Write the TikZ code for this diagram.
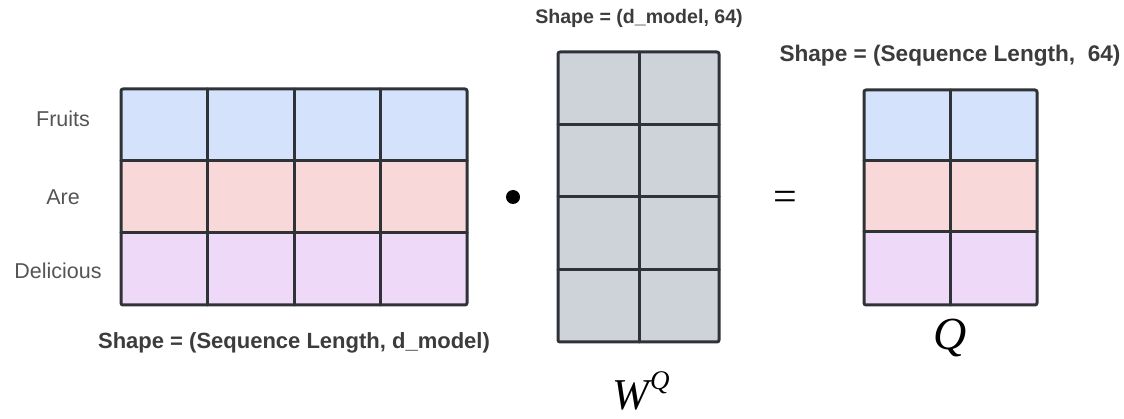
\documentclass[tikz,border=0pt]{standalone}
\usepackage{fontspec}
\setmainfont{Liberation Serif}
\setsansfont{Liberation Sans}

\definecolor{rowblue}{HTML}{D4E3FB}
\definecolor{rowpink}{HTML}{F8D8D8}
\definecolor{rowlilac}{HTML}{EFD9F8}
\definecolor{wgray}{HTML}{CED3DA}
\definecolor{gridline}{HTML}{2F3338}
\definecolor{labelgray}{HTML}{555555}
\definecolor{shapegray}{HTML}{3C3C3C}

\tikzset{
  cell/.style={line width=3pt, draw=gridline, line cap=round, line join=round},
  rowlabel/.style={font=\sffamily\fontsize{21.5}{24}\selectfont, text=labelgray},
  shapelabel/.style={font=\sffamily\bfseries\fontsize{22}{26}\selectfont, text=shapegray},
}

\begin{document}
\begin{tikzpicture}[x=1pt,y=-1pt]
\useasboundingbox (0,0) rectangle (1124,419);

% embeddings: 3 x 4
\fill[rowblue]  (121,89)  rectangle (467,161);
\fill[rowpink]  (121,161) rectangle (467,233);
\fill[rowlilac] (121,233) rectangle (467,305);
\foreach \k in {1,2,3}
  \draw[cell] (121+86.5*\k,89) -- (121+86.5*\k,305);
\foreach \k in {161,233}
  \draw[cell] (121,\k) -- (467,\k);
\draw[cell,rounded corners=2pt] (121,89) rectangle (467,305);

\node[rowlabel] (fruits) at (63,119) {Fruits};
\node[rowlabel] (are) at (63,197) {Are};
\node[rowlabel] (delicious) at (58,271) {Delicious};
\node[shapelabel] (xshape) at (294,343) {Shape = (Sequence Length, d\_model)};

% product sign
\fill[black] (513,197) circle (7);
\node (dot) at (513,197) {};

% weights W^Q: 4 x 2
\fill[wgray] (558,52) rectangle (719,342);
\draw[cell] (639,52) -- (639,342);
\foreach \k in {124.5,197,269.5}
  \draw[cell] (558,\k) -- (719,\k);
\draw[cell,rounded corners=2pt] (558,52) rectangle (719,342);

\node[shapelabel,font=\sffamily\bfseries\fontsize{19.6}{24}\selectfont] (wshape) at (639,18) {Shape = (d\_model, 64)};
\node[font=\fontsize{44}{48}\selectfont\itshape,inner sep=0pt] (wq) at (641,391)
  {W\kern1pt\raisebox{0.45em}{\fontsize{27}{30}\selectfont Q}};

% equals
\node[font=\fontsize{42}{46}\selectfont] (eq) at (785,201) {=};

% result Q: 3 x 2
\fill[rowblue]  (864,90)  rectangle (1037,161);
\fill[rowpink]  (864,161) rectangle (1037,232);
\fill[rowlilac] (864,232) rectangle (1037,305);
\draw[cell] (950,90) -- (950,305);
\foreach \k in {161,232}
  \draw[cell] (864,\k) -- (1037,\k);
\draw[cell,rounded corners=2pt] (864,90) rectangle (1037,305);

\node[shapelabel,font=\sffamily\bfseries\fontsize{22.6}{26}\selectfont] (qshape) at (950,56) {Shape = (Sequence Length,~~64)};
\node[font=\fontsize{46}{50}\selectfont\itshape] (q) at (950,338) {Q};
\end{tikzpicture}
\end{document}
